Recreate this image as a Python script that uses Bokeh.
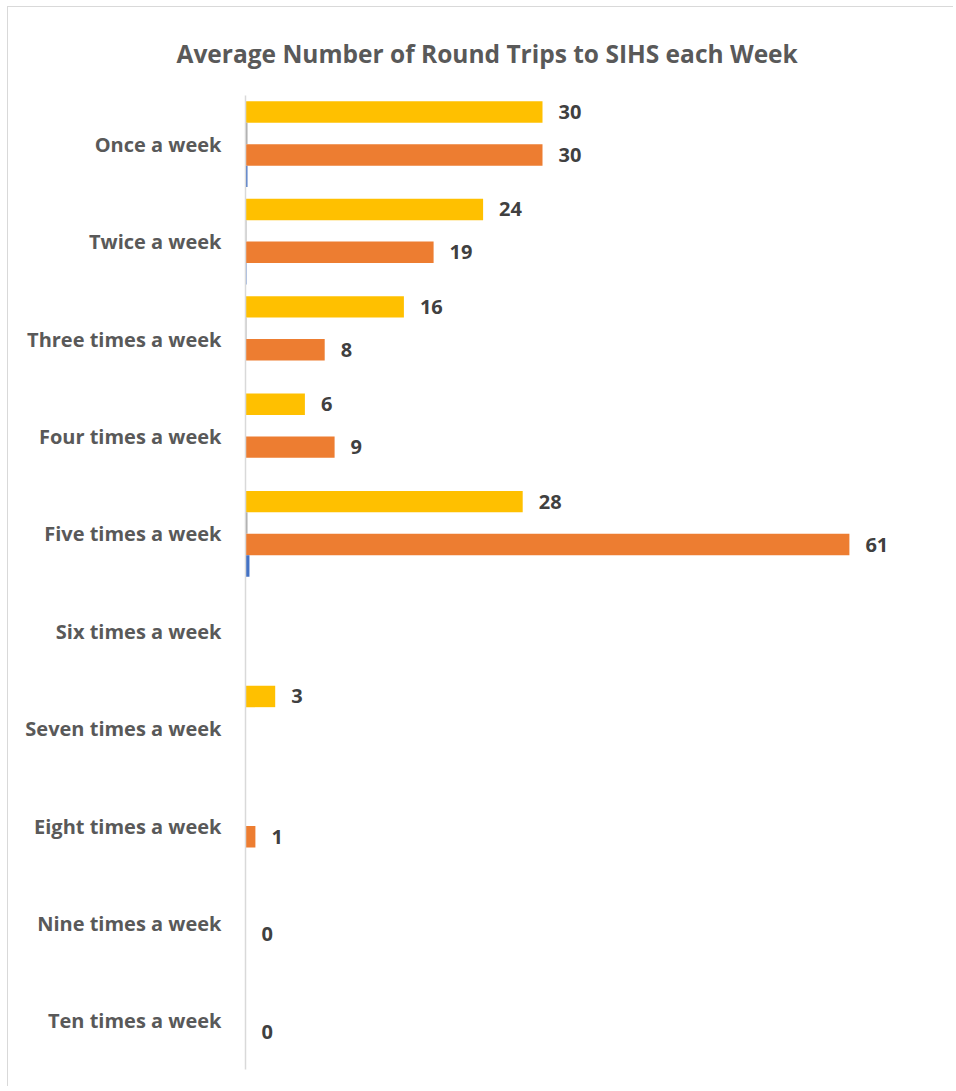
import math
from bokeh.plotting import figure
from bokeh.models import ColumnDataSource, FactorRange, Range1d, Title
from bokeh.transform import dodge
from bokeh.core.properties import value
from bokeh.embed import file_html
from bokeh.resources import INLINE

categories = ["Once a week", "Twice a week", "Three times a week", "Four times a week",
              "Five times a week", "Six times a week", "Seven times a week",
              "Eight times a week", "Nine times a week", "Ten times a week"]
nan = float("nan")
series_yellow = [30, 24, 16, 6, 28, nan, 3, nan, nan, nan]
series_gray = [0.2, 0.1, 0.1, nan, 0.2, nan, nan, nan, nan, nan]
series_orange = [30, 19, 8, 9, 61, nan, nan, 1, 0, 0]
series_blue = [0.2, 0.1, nan, nan, 0.4, nan, nan, nan, nan, nan]
title_text = "Average Number of Round Trips to SIHS each Week"

colors = {"yellow": "#FFC000", "gray": "#A5A5A5", "orange": "#ED7D31", "blue": "#4472C4"}
offsets = {"yellow": 0.33, "gray": 0.11, "orange": -0.11, "blue": -0.33}
data = {"yellow": series_yellow, "gray": series_gray, "orange": series_orange, "blue": series_blue}
labelled = {"yellow", "orange"}

W, H = 946, 1080
p = figure(width=W, height=H, output_backend="svg", toolbar_location=None,
           y_range=FactorRange(factors=list(reversed(categories))),
           x_range=Range1d(0, 70),
           min_border_left=237, min_border_right=16, min_border_top=88, min_border_bottom=18)
p.styles = {"margin-left": "7px", "margin-top": "6px",
            "border-left": "1px solid #d9d9d9", "border-top": "1px solid #d9d9d9"}
p.outline_line_color = None
p.xgrid.visible = False
p.ygrid.visible = False
p.xaxis.visible = False
p.yaxis.axis_line_color = "#d9d9d9"
p.yaxis.axis_line_width = 1.5
p.yaxis.major_tick_line_color = None
p.yaxis.minor_tick_line_color = None
p.yaxis.major_label_text_font = "Open Sans"
p.yaxis.major_label_text_font_style = "bold"
p.yaxis.major_label_text_font_size = "20px"
p.yaxis.major_label_text_color = "#595959"
p.yaxis.major_label_standoff = 18

for key in ["yellow", "gray", "orange", "blue"]:
    vals = data[key]
    cats = [c for c, v in zip(categories, vals) if not math.isnan(v)]
    vs = [v for v in vals if not math.isnan(v)]
    src = ColumnDataSource(dict(cat=cats, v=vs, lab=[str(int(v)) for v in vs]))
    p.hbar(y=dodge("cat", offsets[key], range=p.y_range), right="v", left=0, height=0.22,
           source=src, fill_color=colors[key], line_color=None)
    if key in labelled:
        p.text(x="v", y=dodge("cat", offsets[key], range=p.y_range), text="lab", source=src,
               x_offset=16, text_baseline="middle", text_align="left",
               text_font=value("Open Sans"), text_font_style="bold",
               text_font_size="20px", text_color="#404040")

p.add_layout(Title(text=title_text, align="left", offset=-69, text_font="Open Sans",
                   text_font_style="bold", text_font_size="24.5px", text_color="#595959",
                   standoff=48, vertical_align="top"), "above")

open("out.html", "w").write(file_html(p, INLINE))
